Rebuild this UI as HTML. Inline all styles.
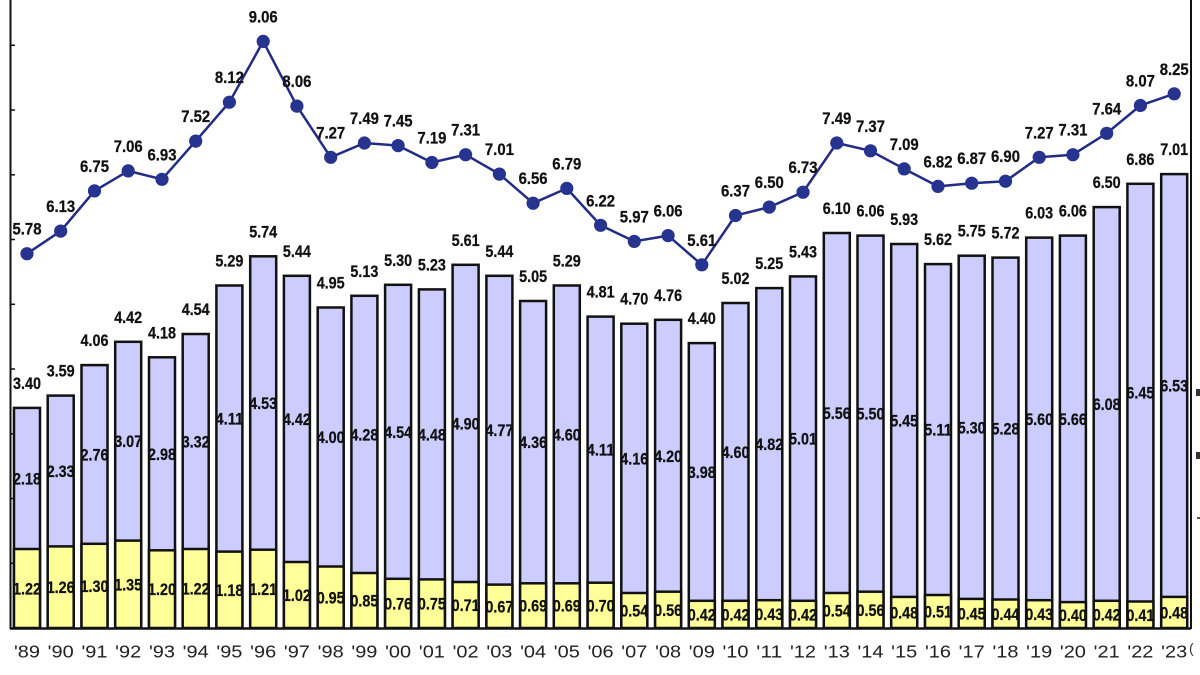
<!DOCTYPE html>
<html><head><meta charset="utf-8"><style>
html,body{margin:0;padding:0;background:#fff;}
svg{display:block;}
.b{font-family:"Liberation Sans",sans-serif;font-weight:bold;font-size:16.5px;text-anchor:middle;fill:#111;stroke:#111;stroke-width:0.25;}
.yr{font-family:"Liberation Sans",sans-serif;font-size:17.5px;text-anchor:middle;fill:#222;}
.p{fill:#ccccff;stroke:#111;stroke-width:2.5;}
.y{fill:#ffff99;stroke:#111;stroke-width:2.5;}
</style></head><body>
<svg width="1200" height="675" viewBox="0 0 1200 675" xmlns="http://www.w3.org/2000/svg">
<rect width="1200" height="675" fill="#fff"/>
<!-- axes -->
<line x1="10.5" y1="0" x2="10.5" y2="629" stroke="#111" stroke-width="2"/>
<line x1="1191" y1="0" x2="1191" y2="629" stroke="#111" stroke-width="2"/>
<g stroke="#111" stroke-width="1.5">
<line x1="10" y1="563.3" x2="15" y2="563.3"/><line x1="10" y1="498.5" x2="15" y2="498.5"/><line x1="10" y1="433.8" x2="15" y2="433.8"/><line x1="10" y1="369" x2="15" y2="369"/><line x1="10" y1="304.3" x2="15" y2="304.3"/><line x1="10" y1="239.5" x2="15" y2="239.5"/><line x1="10" y1="174.8" x2="15" y2="174.8"/><line x1="10" y1="110" x2="15" y2="110"/><line x1="10" y1="45.3" x2="15" y2="45.3"/>
</g>
<rect x="1196" y="389" width="4" height="7" fill="#333"/>
<rect x="1196" y="452" width="4" height="7" fill="#333"/>
<rect x="1197" y="517" width="3" height="2" fill="#555"/>

<!-- bars -->
<g>
<rect class="p" x="14" y="407.9" width="26" height="220.1"/><rect class="y" x="14" y="549" width="26" height="79"/>
<rect class="p" x="47.7" y="395.6" width="26" height="232.4"/><rect class="y" x="47.7" y="546.4" width="26" height="81.6"/>
<rect class="p" x="81.5" y="365.1" width="26" height="262.9"/><rect class="y" x="81.5" y="543.8" width="26" height="84.2"/>
<rect class="p" x="115.2" y="341.8" width="26" height="286.2"/><rect class="y" x="115.2" y="540.6" width="26" height="87.4"/>
<rect class="p" x="149" y="357.3" width="26" height="270.7"/><rect class="y" x="149" y="550.3" width="26" height="77.7"/>
<rect class="p" x="182.7" y="334" width="26" height="294"/><rect class="y" x="182.7" y="549" width="26" height="79"/>
<rect class="p" x="216.4" y="285.5" width="26" height="342.5"/><rect class="y" x="216.4" y="551.6" width="26" height="76.4"/>
<rect class="p" x="250.2" y="256.3" width="26" height="371.7"/><rect class="y" x="250.2" y="549.7" width="26" height="78.3"/>
<rect class="p" x="283.9" y="275.8" width="26" height="352.2"/><rect class="y" x="283.9" y="562" width="26" height="66"/>
<rect class="p" x="317.7" y="307.5" width="26" height="320.5"/><rect class="y" x="317.7" y="566.5" width="26" height="61.5"/>
<rect class="p" x="351.4" y="295.8" width="26" height="332.2"/><rect class="y" x="351.4" y="573" width="26" height="55"/>
<rect class="p" x="385.1" y="284.8" width="26" height="343.2"/><rect class="y" x="385.1" y="578.8" width="26" height="49.2"/>
<rect class="p" x="418.9" y="289.4" width="26" height="338.6"/><rect class="y" x="418.9" y="579.4" width="26" height="48.6"/>
<rect class="p" x="452.6" y="264.8" width="26" height="363.2"/><rect class="y" x="452.6" y="582" width="26" height="46"/>
<rect class="p" x="486.4" y="275.8" width="26" height="352.2"/><rect class="y" x="486.4" y="584.6" width="26" height="43.4"/>
<rect class="p" x="520.1" y="301" width="26" height="327"/><rect class="y" x="520.1" y="583.3" width="26" height="44.7"/>
<rect class="p" x="553.8" y="285.5" width="26" height="342.5"/><rect class="y" x="553.8" y="583.3" width="26" height="44.7"/>
<rect class="p" x="587.6" y="316.6" width="26" height="311.4"/><rect class="y" x="587.6" y="582.7" width="26" height="45.3"/>
<rect class="p" x="621.3" y="323.7" width="26" height="304.3"/><rect class="y" x="621.3" y="593" width="26" height="35"/>
<rect class="p" x="655.1" y="319.8" width="26" height="308.2"/><rect class="y" x="655.1" y="591.7" width="26" height="36.3"/>
<rect class="p" x="688.8" y="343.1" width="26" height="284.9"/><rect class="y" x="688.8" y="600.8" width="26" height="27.2"/>
<rect class="p" x="722.5" y="303" width="26" height="325"/><rect class="y" x="722.5" y="600.8" width="26" height="27.2"/>
<rect class="p" x="756.3" y="288.1" width="26" height="339.9"/><rect class="y" x="756.3" y="600.2" width="26" height="27.8"/>
<rect class="p" x="790" y="276.4" width="26" height="351.6"/><rect class="y" x="790" y="600.8" width="26" height="27.2"/>
<rect class="p" x="823.8" y="233" width="26" height="395"/><rect class="y" x="823.8" y="593" width="26" height="35"/>
<rect class="p" x="857.5" y="235.6" width="26" height="392.4"/><rect class="y" x="857.5" y="591.7" width="26" height="36.3"/>
<rect class="p" x="891.2" y="244" width="26" height="384"/><rect class="y" x="891.2" y="596.9" width="26" height="31.1"/>
<rect class="p" x="925" y="264.1" width="26" height="363.9"/><rect class="y" x="925" y="595" width="26" height="33"/>
<rect class="p" x="958.7" y="255.7" width="26" height="372.3"/><rect class="y" x="958.7" y="598.9" width="26" height="29.1"/>
<rect class="p" x="992.5" y="257.6" width="26" height="370.4"/><rect class="y" x="992.5" y="599.5" width="26" height="28.5"/>
<rect class="p" x="1026.2" y="237.6" width="26" height="390.4"/><rect class="y" x="1026.2" y="600.2" width="26" height="27.8"/>
<rect class="p" x="1059.9" y="235.6" width="26" height="392.4"/><rect class="y" x="1059.9" y="602.1" width="26" height="25.9"/>
<rect class="p" x="1093.7" y="207.1" width="26" height="420.9"/><rect class="y" x="1093.7" y="600.8" width="26" height="27.2"/>
<rect class="p" x="1127.4" y="183.8" width="26" height="444.2"/><rect class="y" x="1127.4" y="601.5" width="26" height="26.5"/>
<rect class="p" x="1161.2" y="174.1" width="26" height="453.9"/><rect class="y" x="1161.2" y="596.9" width="26" height="31.1"/>
</g>
<line x1="10" y1="628.5" x2="1191" y2="628.5" stroke="#111" stroke-width="2.5"/>

<!-- bar total labels -->
<g class="b" transform="translate(0,1)">
<text x="27" y="387.9" textLength="28" lengthAdjust="spacingAndGlyphs">3.40</text>
<text x="60.7" y="375.6" textLength="28" lengthAdjust="spacingAndGlyphs">3.59</text>
<text x="94.5" y="345.1" textLength="28" lengthAdjust="spacingAndGlyphs">4.06</text>
<text x="128.2" y="321.8" textLength="28" lengthAdjust="spacingAndGlyphs">4.42</text>
<text x="162" y="337.3" textLength="28" lengthAdjust="spacingAndGlyphs">4.18</text>
<text x="195.7" y="314" textLength="28" lengthAdjust="spacingAndGlyphs">4.54</text>
<text x="229.4" y="265.5" textLength="28" lengthAdjust="spacingAndGlyphs">5.29</text>
<text x="263.2" y="236.3" textLength="28" lengthAdjust="spacingAndGlyphs">5.74</text>
<text x="296.9" y="255.8" textLength="28" lengthAdjust="spacingAndGlyphs">5.44</text>
<text x="330.7" y="287.5" textLength="28" lengthAdjust="spacingAndGlyphs">4.95</text>
<text x="364.4" y="275.8" textLength="28" lengthAdjust="spacingAndGlyphs">5.13</text>
<text x="398.1" y="264.8" textLength="28" lengthAdjust="spacingAndGlyphs">5.30</text>
<text x="431.9" y="269.4" textLength="28" lengthAdjust="spacingAndGlyphs">5.23</text>
<text x="465.6" y="244.8" textLength="28" lengthAdjust="spacingAndGlyphs">5.61</text>
<text x="499.4" y="255.8" textLength="28" lengthAdjust="spacingAndGlyphs">5.44</text>
<text x="533.1" y="281" textLength="28" lengthAdjust="spacingAndGlyphs">5.05</text>
<text x="566.8" y="265.5" textLength="28" lengthAdjust="spacingAndGlyphs">5.29</text>
<text x="600.6" y="296.6" textLength="28" lengthAdjust="spacingAndGlyphs">4.81</text>
<text x="634.3" y="303.7" textLength="28" lengthAdjust="spacingAndGlyphs">4.70</text>
<text x="668.1" y="299.8" textLength="28" lengthAdjust="spacingAndGlyphs">4.76</text>
<text x="701.8" y="323.1" textLength="28" lengthAdjust="spacingAndGlyphs">4.40</text>
<text x="735.5" y="283" textLength="28" lengthAdjust="spacingAndGlyphs">5.02</text>
<text x="769.3" y="268.1" textLength="28" lengthAdjust="spacingAndGlyphs">5.25</text>
<text x="803" y="256.4" textLength="28" lengthAdjust="spacingAndGlyphs">5.43</text>
<text x="836.8" y="213" textLength="28" lengthAdjust="spacingAndGlyphs">6.10</text>
<text x="870.5" y="215.6" textLength="28" lengthAdjust="spacingAndGlyphs">6.06</text>
<text x="904.2" y="224" textLength="28" lengthAdjust="spacingAndGlyphs">5.93</text>
<text x="938" y="244.1" textLength="28" lengthAdjust="spacingAndGlyphs">5.62</text>
<text x="971.7" y="235.7" textLength="28" lengthAdjust="spacingAndGlyphs">5.75</text>
<text x="1005.5" y="237.6" textLength="28" lengthAdjust="spacingAndGlyphs">5.72</text>
<text x="1039.2" y="217.6" textLength="28" lengthAdjust="spacingAndGlyphs">6.03</text>
<text x="1072.9" y="215.6" textLength="28" lengthAdjust="spacingAndGlyphs">6.06</text>
<text x="1106.7" y="187.1" textLength="28" lengthAdjust="spacingAndGlyphs">6.50</text>
<text x="1140.4" y="163.8" textLength="28" lengthAdjust="spacingAndGlyphs">6.86</text>
<text x="1174.2" y="154.1" textLength="28" lengthAdjust="spacingAndGlyphs">7.01</text>
</g>

<!-- purple segment labels -->
<g class="b">
<text x="27" y="484.5" textLength="28" lengthAdjust="spacingAndGlyphs">2.18</text>
<text x="60.7" y="477" textLength="28" lengthAdjust="spacingAndGlyphs">2.33</text>
<text x="94.5" y="460.5" textLength="28" lengthAdjust="spacingAndGlyphs">2.76</text>
<text x="128.2" y="447.2" textLength="28" lengthAdjust="spacingAndGlyphs">3.07</text>
<text x="162" y="459.8" textLength="28" lengthAdjust="spacingAndGlyphs">2.98</text>
<text x="195.7" y="447.5" textLength="28" lengthAdjust="spacingAndGlyphs">3.32</text>
<text x="229.4" y="424.6" textLength="28" lengthAdjust="spacingAndGlyphs">4.11</text>
<text x="263.2" y="409" textLength="28" lengthAdjust="spacingAndGlyphs">4.53</text>
<text x="296.9" y="424.9" textLength="28" lengthAdjust="spacingAndGlyphs">4.42</text>
<text x="330.7" y="443" textLength="28" lengthAdjust="spacingAndGlyphs">4.00</text>
<text x="364.4" y="440.4" textLength="28" lengthAdjust="spacingAndGlyphs">4.28</text>
<text x="398.1" y="437.8" textLength="28" lengthAdjust="spacingAndGlyphs">4.54</text>
<text x="431.9" y="440.4" textLength="28" lengthAdjust="spacingAndGlyphs">4.48</text>
<text x="465.6" y="429.4" textLength="28" lengthAdjust="spacingAndGlyphs">4.90</text>
<text x="499.4" y="436.2" textLength="28" lengthAdjust="spacingAndGlyphs">4.77</text>
<text x="533.1" y="448.2" textLength="28" lengthAdjust="spacingAndGlyphs">4.36</text>
<text x="566.8" y="440.4" textLength="28" lengthAdjust="spacingAndGlyphs">4.60</text>
<text x="600.6" y="455.7" textLength="28" lengthAdjust="spacingAndGlyphs">4.11</text>
<text x="634.3" y="464.4" textLength="28" lengthAdjust="spacingAndGlyphs">4.16</text>
<text x="668.1" y="461.8" textLength="28" lengthAdjust="spacingAndGlyphs">4.20</text>
<text x="701.8" y="478" textLength="28" lengthAdjust="spacingAndGlyphs">3.98</text>
<text x="735.5" y="457.9" textLength="28" lengthAdjust="spacingAndGlyphs">4.60</text>
<text x="769.3" y="450.2" textLength="28" lengthAdjust="spacingAndGlyphs">4.82</text>
<text x="803" y="444.6" textLength="28" lengthAdjust="spacingAndGlyphs">5.01</text>
<text x="836.8" y="419" textLength="28" lengthAdjust="spacingAndGlyphs">5.56</text>
<text x="870.5" y="419.7" textLength="28" lengthAdjust="spacingAndGlyphs">5.50</text>
<text x="904.2" y="426.5" textLength="28" lengthAdjust="spacingAndGlyphs">5.45</text>
<text x="938" y="435.6" textLength="28" lengthAdjust="spacingAndGlyphs">5.11</text>
<text x="971.7" y="433.3" textLength="28" lengthAdjust="spacingAndGlyphs">5.30</text>
<text x="1005.5" y="434.6" textLength="28" lengthAdjust="spacingAndGlyphs">5.28</text>
<text x="1039.2" y="424.9" textLength="28" lengthAdjust="spacingAndGlyphs">5.60</text>
<text x="1072.9" y="424.9" textLength="28" lengthAdjust="spacingAndGlyphs">5.66</text>
<text x="1106.7" y="410" textLength="28" lengthAdjust="spacingAndGlyphs">6.08</text>
<text x="1140.4" y="398.7" textLength="28" lengthAdjust="spacingAndGlyphs">6.45</text>
<text x="1174.2" y="391.5" textLength="28" lengthAdjust="spacingAndGlyphs">6.53</text>
</g>

<!-- yellow segment labels -->
<g class="b">
<text x="27" y="594.5" textLength="28" lengthAdjust="spacingAndGlyphs">1.22</text>
<text x="60.7" y="593.2" textLength="28" lengthAdjust="spacingAndGlyphs">1.26</text>
<text x="94.5" y="591.9" textLength="28" lengthAdjust="spacingAndGlyphs">1.30</text>
<text x="128.2" y="590.3" textLength="28" lengthAdjust="spacingAndGlyphs">1.35</text>
<text x="162" y="595.2" textLength="28" lengthAdjust="spacingAndGlyphs">1.20</text>
<text x="195.7" y="594.5" textLength="28" lengthAdjust="spacingAndGlyphs">1.22</text>
<text x="229.4" y="595.8" textLength="28" lengthAdjust="spacingAndGlyphs">1.18</text>
<text x="263.2" y="594.9" textLength="28" lengthAdjust="spacingAndGlyphs">1.21</text>
<text x="296.9" y="601" textLength="28" lengthAdjust="spacingAndGlyphs">1.02</text>
<text x="330.7" y="603.3" textLength="28" lengthAdjust="spacingAndGlyphs">0.95</text>
<text x="364.4" y="606.5" textLength="28" lengthAdjust="spacingAndGlyphs">0.85</text>
<text x="398.1" y="609.4" textLength="28" lengthAdjust="spacingAndGlyphs">0.76</text>
<text x="431.9" y="609.7" textLength="28" lengthAdjust="spacingAndGlyphs">0.75</text>
<text x="465.6" y="611" textLength="28" lengthAdjust="spacingAndGlyphs">0.71</text>
<text x="499.4" y="612.3" textLength="28" lengthAdjust="spacingAndGlyphs">0.67</text>
<text x="533.1" y="611.7" textLength="28" lengthAdjust="spacingAndGlyphs">0.69</text>
<text x="566.8" y="611.7" textLength="28" lengthAdjust="spacingAndGlyphs">0.69</text>
<text x="600.6" y="611.4" textLength="28" lengthAdjust="spacingAndGlyphs">0.70</text>
<text x="634.3" y="616.5" textLength="28" lengthAdjust="spacingAndGlyphs">0.54</text>
<text x="668.1" y="615.9" textLength="28" lengthAdjust="spacingAndGlyphs">0.56</text>
<text x="701.8" y="620.4" textLength="28" lengthAdjust="spacingAndGlyphs">0.42</text>
<text x="735.5" y="620.4" textLength="28" lengthAdjust="spacingAndGlyphs">0.42</text>
<text x="769.3" y="620.1" textLength="28" lengthAdjust="spacingAndGlyphs">0.43</text>
<text x="803" y="620.4" textLength="28" lengthAdjust="spacingAndGlyphs">0.42</text>
<text x="836.8" y="616.5" textLength="28" lengthAdjust="spacingAndGlyphs">0.54</text>
<text x="870.5" y="615.9" textLength="28" lengthAdjust="spacingAndGlyphs">0.56</text>
<text x="904.2" y="618.5" textLength="28" lengthAdjust="spacingAndGlyphs">0.48</text>
<text x="938" y="617.5" textLength="28" lengthAdjust="spacingAndGlyphs">0.51</text>
<text x="971.7" y="619.5" textLength="28" lengthAdjust="spacingAndGlyphs">0.45</text>
<text x="1005.5" y="619.8" textLength="28" lengthAdjust="spacingAndGlyphs">0.44</text>
<text x="1039.2" y="620.1" textLength="28" lengthAdjust="spacingAndGlyphs">0.43</text>
<text x="1072.9" y="621.1" textLength="28" lengthAdjust="spacingAndGlyphs">0.40</text>
<text x="1106.7" y="620.4" textLength="28" lengthAdjust="spacingAndGlyphs">0.42</text>
<text x="1140.4" y="620.8" textLength="28" lengthAdjust="spacingAndGlyphs">0.41</text>
<text x="1174.2" y="618.5" textLength="28" lengthAdjust="spacingAndGlyphs">0.48</text>
</g>

<!-- line series -->
<polyline fill="none" stroke="#222c85" stroke-width="2.5" stroke-linejoin="round" points="27,253.7 60.7,231.1 94.5,190.9 128.2,170.9 162,179.3 195.7,141.1 229.4,102.2 263.2,41.4 296.9,106.1 330.7,157.3 364.4,143 398.1,145.6 431.9,162.5 465.6,154.7 499.4,174.1 533.1,203.2 566.8,188.4 600.6,225.3 634.3,241.4 668.1,235.6 701.8,264.8 735.5,215.5 769.3,207.1 803,192.2 836.8,143 870.5,150.8 904.2,168.9 938,186.4 971.7,183.2 1005.5,181.2 1039.2,157.3 1072.9,154.7 1106.7,133.3 1140.4,105.5 1174.2,93.8"/>
<g fill="#26338f">
<circle cx="27" cy="253.7" r="6.6"/><circle cx="60.7" cy="231.1" r="6.6"/><circle cx="94.5" cy="190.9" r="6.6"/><circle cx="128.2" cy="170.9" r="6.6"/><circle cx="162" cy="179.3" r="6.6"/><circle cx="195.7" cy="141.1" r="6.6"/><circle cx="229.4" cy="102.2" r="6.6"/><circle cx="263.2" cy="41.4" r="6.6"/><circle cx="296.9" cy="106.1" r="6.6"/><circle cx="330.7" cy="157.3" r="6.6"/><circle cx="364.4" cy="143" r="6.6"/><circle cx="398.1" cy="145.6" r="6.6"/><circle cx="431.9" cy="162.5" r="6.6"/><circle cx="465.6" cy="154.7" r="6.6"/><circle cx="499.4" cy="174.1" r="6.6"/><circle cx="533.1" cy="203.2" r="6.6"/><circle cx="566.8" cy="188.4" r="6.6"/><circle cx="600.6" cy="225.3" r="6.6"/><circle cx="634.3" cy="241.4" r="6.6"/><circle cx="668.1" cy="235.6" r="6.6"/><circle cx="701.8" cy="264.8" r="6.6"/><circle cx="735.5" cy="215.5" r="6.6"/><circle cx="769.3" cy="207.1" r="6.6"/><circle cx="803" cy="192.2" r="6.6"/><circle cx="836.8" cy="143" r="6.6"/><circle cx="870.5" cy="150.8" r="6.6"/><circle cx="904.2" cy="168.9" r="6.6"/><circle cx="938" cy="186.4" r="6.6"/><circle cx="971.7" cy="183.2" r="6.6"/><circle cx="1005.5" cy="181.2" r="6.6"/><circle cx="1039.2" cy="157.3" r="6.6"/><circle cx="1072.9" cy="154.7" r="6.6"/><circle cx="1106.7" cy="133.3" r="6.6"/><circle cx="1140.4" cy="105.5" r="6.6"/><circle cx="1174.2" cy="93.8" r="6.6"/>
</g>
<g class="b" transform="translate(0,0.5)">
<text x="27" y="234.2" textLength="29" lengthAdjust="spacingAndGlyphs">5.78</text>
<text x="60.7" y="211.6" textLength="29" lengthAdjust="spacingAndGlyphs">6.13</text>
<text x="94.5" y="171.4" textLength="29" lengthAdjust="spacingAndGlyphs">6.75</text>
<text x="128.2" y="151.4" textLength="29" lengthAdjust="spacingAndGlyphs">7.06</text>
<text x="162" y="159.8" textLength="29" lengthAdjust="spacingAndGlyphs">6.93</text>
<text x="195.7" y="121.6" textLength="29" lengthAdjust="spacingAndGlyphs">7.52</text>
<text x="229.4" y="82.7" textLength="29" lengthAdjust="spacingAndGlyphs">8.12</text>
<text x="263.2" y="21.9" textLength="29" lengthAdjust="spacingAndGlyphs">9.06</text>
<text x="296.9" y="86.6" textLength="29" lengthAdjust="spacingAndGlyphs">8.06</text>
<text x="330.7" y="137.8" textLength="29" lengthAdjust="spacingAndGlyphs">7.27</text>
<text x="364.4" y="123.5" textLength="29" lengthAdjust="spacingAndGlyphs">7.49</text>
<text x="398.1" y="126.1" textLength="29" lengthAdjust="spacingAndGlyphs">7.45</text>
<text x="431.9" y="143" textLength="29" lengthAdjust="spacingAndGlyphs">7.19</text>
<text x="465.6" y="135.2" textLength="29" lengthAdjust="spacingAndGlyphs">7.31</text>
<text x="499.4" y="154.6" textLength="29" lengthAdjust="spacingAndGlyphs">7.01</text>
<text x="533.1" y="183.7" textLength="29" lengthAdjust="spacingAndGlyphs">6.56</text>
<text x="566.8" y="168.9" textLength="29" lengthAdjust="spacingAndGlyphs">6.79</text>
<text x="600.6" y="205.8" textLength="29" lengthAdjust="spacingAndGlyphs">6.22</text>
<text x="634.3" y="221.9" textLength="29" lengthAdjust="spacingAndGlyphs">5.97</text>
<text x="668.1" y="216.1" textLength="29" lengthAdjust="spacingAndGlyphs">6.06</text>
<text x="701.8" y="245.3" textLength="29" lengthAdjust="spacingAndGlyphs">5.61</text>
<text x="735.5" y="196" textLength="29" lengthAdjust="spacingAndGlyphs">6.37</text>
<text x="769.3" y="187.6" textLength="29" lengthAdjust="spacingAndGlyphs">6.50</text>
<text x="803" y="172.7" textLength="29" lengthAdjust="spacingAndGlyphs">6.73</text>
<text x="836.8" y="123.5" textLength="29" lengthAdjust="spacingAndGlyphs">7.49</text>
<text x="870.5" y="131.3" textLength="29" lengthAdjust="spacingAndGlyphs">7.37</text>
<text x="904.2" y="149.4" textLength="29" lengthAdjust="spacingAndGlyphs">7.09</text>
<text x="938" y="166.9" textLength="29" lengthAdjust="spacingAndGlyphs">6.82</text>
<text x="971.7" y="163.7" textLength="29" lengthAdjust="spacingAndGlyphs">6.87</text>
<text x="1005.5" y="161.7" textLength="29" lengthAdjust="spacingAndGlyphs">6.90</text>
<text x="1039.2" y="137.8" textLength="29" lengthAdjust="spacingAndGlyphs">7.27</text>
<text x="1072.9" y="135.2" textLength="29" lengthAdjust="spacingAndGlyphs">7.31</text>
<text x="1106.7" y="113.8" textLength="29" lengthAdjust="spacingAndGlyphs">7.64</text>
<text x="1140.4" y="86" textLength="29" lengthAdjust="spacingAndGlyphs">8.07</text>
<text x="1174.2" y="74.3" textLength="29" lengthAdjust="spacingAndGlyphs">8.25</text>
</g>

<!-- year labels -->
<g class="yr">
<text x="27" y="657.5" textLength="26" lengthAdjust="spacingAndGlyphs">'89</text>
<text x="60.7" y="657.5" textLength="26" lengthAdjust="spacingAndGlyphs">'90</text>
<text x="94.5" y="657.5" textLength="26" lengthAdjust="spacingAndGlyphs">'91</text>
<text x="128.2" y="657.5" textLength="26" lengthAdjust="spacingAndGlyphs">'92</text>
<text x="162" y="657.5" textLength="26" lengthAdjust="spacingAndGlyphs">'93</text>
<text x="195.7" y="657.5" textLength="26" lengthAdjust="spacingAndGlyphs">'94</text>
<text x="229.4" y="657.5" textLength="26" lengthAdjust="spacingAndGlyphs">'95</text>
<text x="263.2" y="657.5" textLength="26" lengthAdjust="spacingAndGlyphs">'96</text>
<text x="296.9" y="657.5" textLength="26" lengthAdjust="spacingAndGlyphs">'97</text>
<text x="330.7" y="657.5" textLength="26" lengthAdjust="spacingAndGlyphs">'98</text>
<text x="364.4" y="657.5" textLength="26" lengthAdjust="spacingAndGlyphs">'99</text>
<text x="398.1" y="657.5" textLength="26" lengthAdjust="spacingAndGlyphs">'00</text>
<text x="431.9" y="657.5" textLength="26" lengthAdjust="spacingAndGlyphs">'01</text>
<text x="465.6" y="657.5" textLength="26" lengthAdjust="spacingAndGlyphs">'02</text>
<text x="499.4" y="657.5" textLength="26" lengthAdjust="spacingAndGlyphs">'03</text>
<text x="533.1" y="657.5" textLength="26" lengthAdjust="spacingAndGlyphs">'04</text>
<text x="566.8" y="657.5" textLength="26" lengthAdjust="spacingAndGlyphs">'05</text>
<text x="600.6" y="657.5" textLength="26" lengthAdjust="spacingAndGlyphs">'06</text>
<text x="634.3" y="657.5" textLength="26" lengthAdjust="spacingAndGlyphs">'07</text>
<text x="668.1" y="657.5" textLength="26" lengthAdjust="spacingAndGlyphs">'08</text>
<text x="701.8" y="657.5" textLength="26" lengthAdjust="spacingAndGlyphs">'09</text>
<text x="735.5" y="657.5" textLength="26" lengthAdjust="spacingAndGlyphs">'10</text>
<text x="769.3" y="657.5" textLength="26" lengthAdjust="spacingAndGlyphs">'11</text>
<text x="803" y="657.5" textLength="26" lengthAdjust="spacingAndGlyphs">'12</text>
<text x="836.8" y="657.5" textLength="26" lengthAdjust="spacingAndGlyphs">'13</text>
<text x="870.5" y="657.5" textLength="26" lengthAdjust="spacingAndGlyphs">'14</text>
<text x="904.2" y="657.5" textLength="26" lengthAdjust="spacingAndGlyphs">'15</text>
<text x="938" y="657.5" textLength="26" lengthAdjust="spacingAndGlyphs">'16</text>
<text x="971.7" y="657.5" textLength="26" lengthAdjust="spacingAndGlyphs">'17</text>
<text x="1005.5" y="657.5" textLength="26" lengthAdjust="spacingAndGlyphs">'18</text>
<text x="1039.2" y="657.5" textLength="26" lengthAdjust="spacingAndGlyphs">'19</text>
<text x="1072.9" y="657.5" textLength="26" lengthAdjust="spacingAndGlyphs">'20</text>
<text x="1106.7" y="657.5" textLength="26" lengthAdjust="spacingAndGlyphs">'21</text>
<text x="1140.4" y="657.5" textLength="26" lengthAdjust="spacingAndGlyphs">'22</text>
<text x="1174.2" y="657.5" textLength="26" lengthAdjust="spacingAndGlyphs">'23</text>
</g>
<text x="1189" y="653" font-family="Liberation Sans, sans-serif" font-size="14" fill="#333">(</text>
</svg>
</body></html>
